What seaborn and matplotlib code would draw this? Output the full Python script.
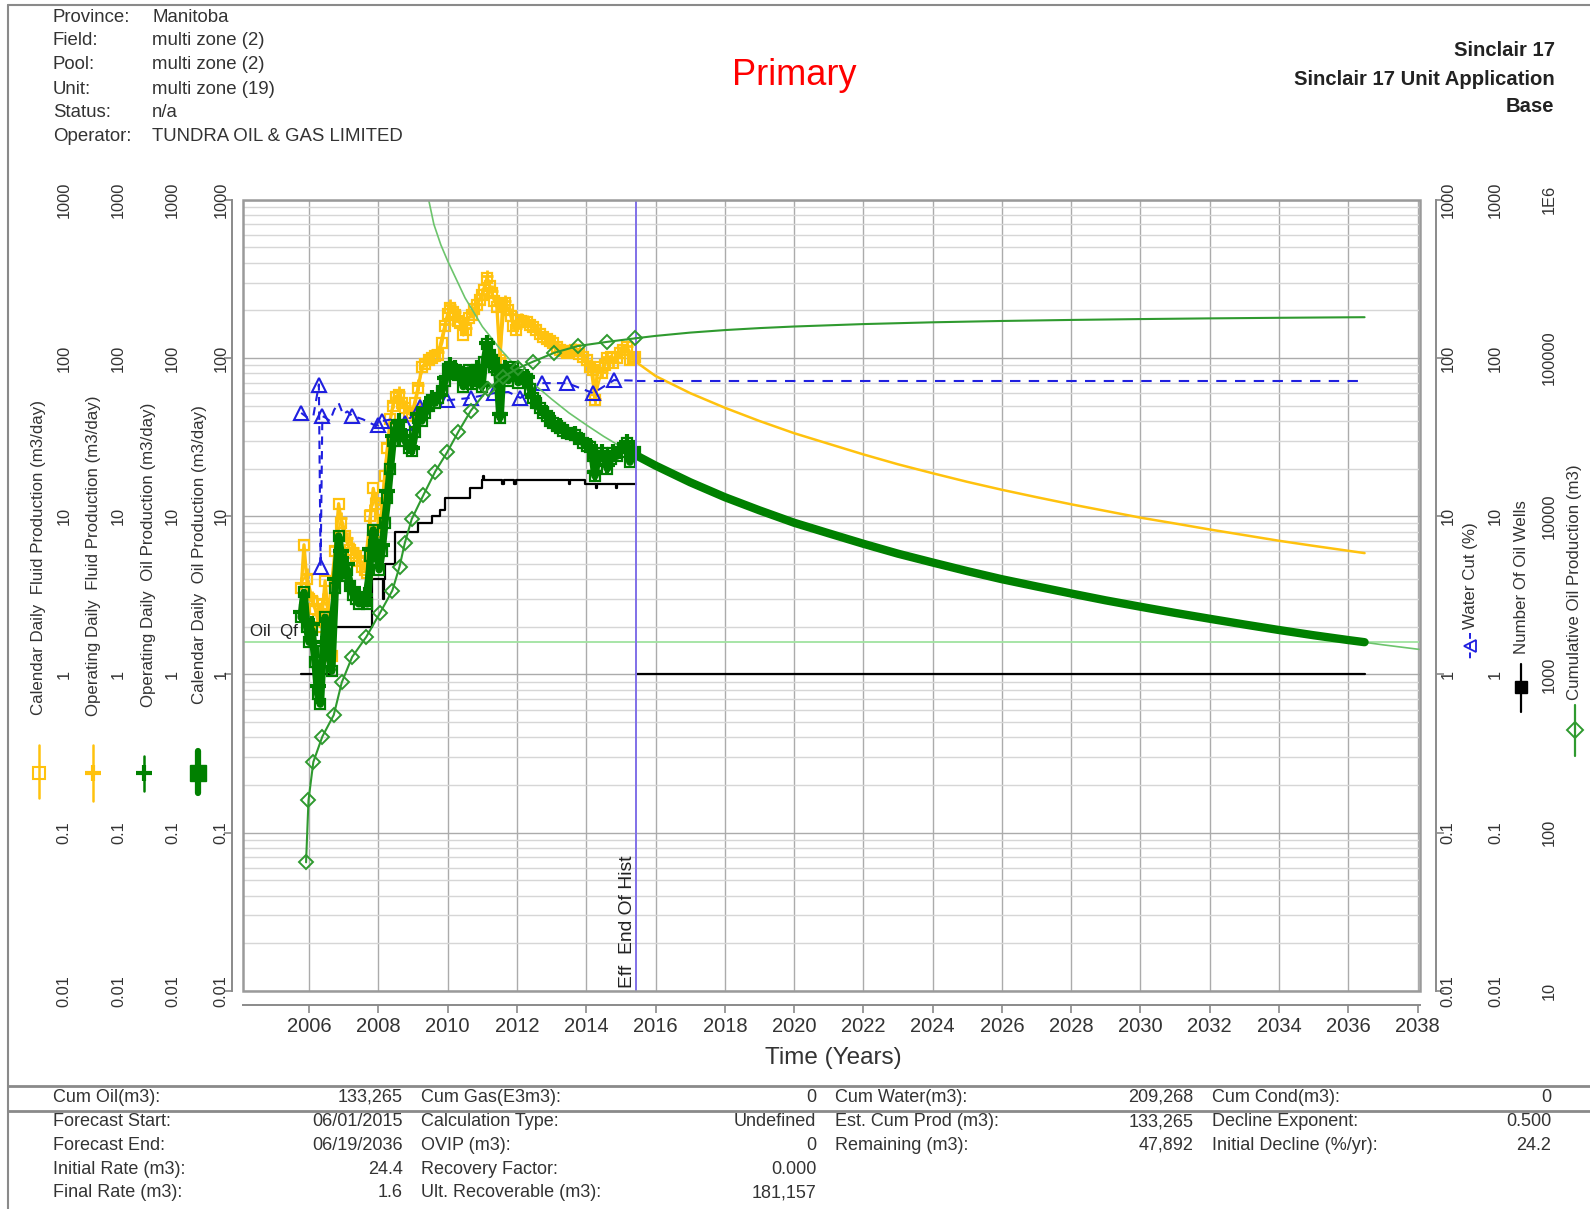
import matplotlib
matplotlib.use("Agg")
import matplotlib.pyplot as plt
import matplotlib.transforms as mtransforms
from matplotlib import font_manager as fm
from matplotlib.lines import Line2D
from matplotlib.patches import Rectangle
from matplotlib.ticker import FixedLocator, NullFormatter, NullLocator
import numpy as np
import seaborn as sns

# ---------------------------------------------------------------- data
hdr_labels = ["Province:", "Field:", "Pool:", "Unit:", "Status:", "Operator:"]
hdr_values = ["Manitoba", "multi zone (2)", "multi zone (2)", "multi zone (19)",
              "n/a", "TUNDRA OIL & GAS LIMITED"]
title_text = "Primary"
right_header = ["Sinclair 17", "Sinclair 17 Unit Application", "Base"]

# monthly history (calendar rates, m3/day)
hist_years = [2005.77, 2005.85, 2005.93,
              2006.00, 2006.08, 2006.17, 2006.25, 2006.32, 2006.40, 2006.46, 2006.55, 2006.65, 2006.75, 2006.85, 2006.93,
              2007.02, 2007.10, 2007.18, 2007.27, 2007.35, 2007.43, 2007.52, 2007.60, 2007.68, 2007.77, 2007.85, 2007.93,
              2008.02, 2008.10, 2008.18, 2008.26, 2008.34, 2008.42, 2008.50, 2008.60, 2008.68, 2008.77, 2008.88, 2008.96,
              2009.06, 2009.15, 2009.25, 2009.35, 2009.45, 2009.54, 2009.63, 2009.72, 2009.83, 2009.92,
              2010.00, 2010.07, 2010.15, 2010.21, 2010.30, 2010.36, 2010.45, 2010.52, 2010.60, 2010.69, 2010.77, 2010.84, 2010.92, 2010.98,
              2011.06, 2011.14, 2011.21, 2011.27, 2011.35, 2011.42, 2011.51, 2011.58, 2011.65, 2011.75, 2011.82, 2011.89, 2011.97,
              2012.04, 2012.12, 2012.20, 2012.28, 2012.38, 2012.47, 2012.56, 2012.66, 2012.76, 2012.86, 2012.96,
              2013.05, 2013.15, 2013.24, 2013.34, 2013.44, 2013.55, 2013.67, 2013.79, 2013.91,
              2014.01, 2014.11, 2014.18, 2014.25, 2014.33, 2014.44, 2014.53, 2014.61, 2014.70, 2014.78, 2014.88, 2014.97,
              2015.07, 2015.17, 2015.26, 2015.34, 2015.42]
cal_oil = [2.3, 3.3, 2.0,
           1.6, 1.9, 1.2, 0.75, 0.65, 1.4, 2.3, 1.5, 1.05, 3.5, 7.5, 5.5,
           4.2, 4.6, 3.6, 3.2, 3.0, 2.8, 3.1, 2.9, 2.8, 5.6, 8.2, 6.5,
           4.6, 6.0, 9.0, 13, 20, 30, 36, 38, 32, 30, 27, 26,
           34, 42, 40, 45, 50, 54, 52, 56, 62, 72,
           85, 88, 80, 84, 78, 80, 66, 75, 84, 69, 78, 84, 72, 66,
           95, 122, 105, 97, 88, 84, 42, 80, 84, 72, 80, 88, 78,
           70, 74, 76, 74, 64, 56, 52, 48, 45, 43, 40,
           38.6, 37, 36, 34.5, 33.6, 33, 32.8, 31, 29.2,
           28, 27.2, 24, 18, 24, 25, 23, 20, 23, 25, 24, 25.6,
           27, 29, 22, 25, 25.6]
cal_fluid = [3.5, 6.6, 4.0,
             3.0, 2.9, 2.6, 2.2, 2.0, 2.8, 3.9, 2.4, 1.3, 6.0, 12, 9.1,
             7.5, 6.8, 6.1, 5.9, 5.6, 5.2, 4.8, 4.6, 4.4, 10, 15, 12,
             8, 11, 18, 27, 41, 50, 57, 58, 52, 48, 45, 43,
             52, 65, 88, 92, 97, 100, 103, 105, 125, 160,
             190, 207, 195, 187, 172, 166, 140, 150, 180, 187, 205, 215, 234, 250,
             270, 320, 285, 258, 230, 210, 97, 215, 222, 202, 185, 160, 150,
             175, 172, 170, 168, 162, 158, 150, 142, 136, 131, 128,
             125, 118, 112, 110, 107, 110, 112, 106, 102,
             97, 88, 84, 54, 88, 80, 90, 100, 102, 93, 100, 107,
             112, 118, 97, 100, 102]

# operating-day rates (m3/day)
op_years = [2005.77, 2005.93, 2006.08, 2006.25, 2006.40, 2006.55, 2006.75, 2006.93, 2007.10, 2007.27,
            2007.43, 2007.60, 2007.77, 2007.93, 2008.10, 2008.26, 2008.42, 2008.60, 2008.77, 2008.96,
            2009.15, 2009.35, 2009.54, 2009.72, 2009.92, 2010.07, 2010.21, 2010.36, 2010.52, 2010.69,
            2010.84, 2010.98, 2011.14, 2011.27, 2011.42, 2011.51, 2011.65, 2011.82, 2011.97, 2012.12,
            2012.28, 2012.47, 2012.66, 2012.86, 2013.05, 2013.24, 2013.44, 2013.67, 2013.91, 2014.11,
            2014.25, 2014.44, 2014.61, 2014.78, 2014.97, 2015.17, 2015.34]
op_oil = [2.5, 2.2, 2.1, 0.85, 1.6, 1.7, 4.0, 6.0, 5.0, 3.5,
          3.1, 3.2, 6.2, 7.0, 6.6, 14.5, 32, 40, 32, 27,
          44, 47, 56, 58, 75, 90, 86, 82, 77, 71,
          86, 68, 125, 99, 86, 44, 86, 82, 80, 76,
          76, 57, 49, 44, 39, 37, 34, 33, 30, 28,
          19, 25.5, 21, 25.5, 26, 29.5, 25.5]
op_fluid = [3.8, 4.3, 3.1, 2.4, 3.0, 2.6, 6.5, 9.8, 7.3, 6.3,
            5.5, 4.9, 11, 13, 12, 29, 53, 61, 50, 45,
            68, 96, 104, 109, 165, 215, 195, 172, 155, 195,
            220, 255, 330, 265, 215, 100, 228, 190, 155, 176,
            172, 160, 145, 133, 127, 114, 109, 114, 104, 90,
            55, 82, 102, 95, 109, 120, 102]

# water cut history (%)
wc_years = [2005.77, 2005.95, 2006.12, 2006.28, 2006.33, 2006.38, 2006.47, 2006.60, 2006.72, 2006.85,
            2006.98, 2007.10, 2007.23, 2007.55, 2007.85, 2007.99, 2008.10, 2008.40, 2008.78, 2009.19,
            2009.60, 2009.97, 2010.66, 2011.34, 2011.75, 2012.10, 2012.72, 2013.45, 2014.20, 2014.80, 2015.42]
wc_pct = [45, 42, 43, 68, 4.8, 43, 42, 40, 47, 52,
          44, 46, 43.3, 41, 38, 37.5, 40, 41, 38.7, 49,
          52, 54, 56, 60, 61, 56, 69.4, 69.4, 60, 72.5, 72]
wc_marked = [0, 3, 4, 5, 12, 15, 16, 18, 19, 21, 22, 23, 25, 26, 27, 28, 29]

# producing oil wells
wells_years = [2005.77, 2006.60, 2007.81, 2008.13, 2008.17, 2008.19, 2008.48, 2009.15, 2009.54, 2009.78,
               2009.92, 2010.65, 2010.98, 2011.02, 2011.06, 2011.58, 2011.62, 2011.92, 2011.96, 2013.49,
               2013.53, 2013.96, 2014.28, 2014.32, 2014.86, 2014.90, 2015.45]
wells_count = [1, 2, 4, 3, 4, 5, 8, 9, 10, 11,
               13, 15, 17, 18, 17, 16, 17, 16, 17, 16,
               17, 16, 15, 16, 15, 16, 16]
fc_wells_years = [2015.45, 2036.47]
fc_wells_count = [1, 1]

# cumulative oil (m3)
cum_years = [2005.91, 2005.98, 2006.12, 2006.38, 2006.71, 2006.94, 2007.24, 2007.65, 2008.05, 2008.40,
             2008.61, 2008.76, 2008.96, 2009.30, 2009.64, 2009.98, 2010.31, 2010.67, 2011.17, 2011.60,
             2012.02, 2012.47, 2013.08, 2013.75, 2014.60, 2015.42]
cum_oil = [65, 160, 280, 405, 555, 890, 1290, 1730, 2460, 3390,
           4810, 6760, 9590, 13650, 19180, 25300, 34300, 46600, 63800, 76000,
           86000, 95000, 108000, 119000, 126500, 133265]

# forecast
fc_years = [2015.42, 2016, 2017, 2018, 2019, 2020, 2021, 2022, 2023, 2024, 2025, 2026,
            2027, 2028, 2029, 2030, 2031, 2032, 2033, 2034, 2035, 2036, 2036.47]
fc_oil = [24.4, 20.9, 16.4, 13.2, 10.9, 9.1, 7.8, 6.7, 5.8, 5.1, 4.5, 4.0,
          3.6, 3.25, 2.94, 2.68, 2.45, 2.25, 2.07, 1.91, 1.77, 1.65, 1.6]
fc_fluid = [95, 77, 60, 48.5, 40, 33.5, 28.7, 24.6, 21.3, 18.7, 16.5, 14.7,
            13.2, 11.9, 10.8, 9.8, 9.0, 8.25, 7.6, 7.0, 6.5, 6.05, 5.85]
fc_wc_years = [2015.42, 2036.47]
fc_wc_pct = [72, 72]
fc_cum_years = [2015.42, 2016, 2017, 2018, 2019, 2020, 2022, 2024, 2026, 2028, 2030, 2032, 2034, 2036, 2036.47]
fc_cum_oil = [133265, 138000, 144800, 150200, 154600, 158200, 163900, 168200, 171500, 174100,
              176300, 178100, 179600, 180900, 181157]

# fitted decline curve over the whole span
dc_years = [2009.45, 2009.6, 2009.8, 2010.0, 2010.5, 2011.0, 2011.5, 2012.0, 2012.5, 2013.0, 2013.5,
            2014.0, 2014.5, 2015.0, 2015.42, 2016, 2017, 2018, 2019, 2020, 2022, 2024, 2026,
            2028, 2030, 2032, 2034, 2036, 2037, 2038.06]
dc_rate = [1000, 700, 520, 410, 240, 158, 115, 87, 68, 55, 45,
           37.8, 32, 27.5, 24.4, 20.9, 16.4, 13.2, 10.9, 9.1, 6.7, 5.1, 4.0,
           3.25, 2.68, 2.25, 1.91, 1.65, 1.54, 1.44]

qf_rate = 1.6
end_of_hist = 2015.45

x_ticks = list(range(2006, 2039, 2))
rate_ticks = [0.01, 0.1, 1, 10, 100, 1000]
rate_tick_labels = ["0.01", "0.1", "1", "10", "100", "1000"]
cum_ticks = [10, 100, 1000, 10000, 100000, 1000000]
cum_tick_labels = ["10", "100", "1000", "10000", "100000", "1E6"]

left_axis_titles = ["Calendar Daily  Fluid Production (m3/day)",
                    "Operating Daily  Fluid Production (m3/day)",
                    "Operating Daily  Oil Production (m3/day)",
                    "Calendar Daily  Oil Production (m3/day)"]
right_axis_titles = ["Water Cut (%)", "Number Of Oil Wells", "Cumulative Oil Production (m3)"]

table_rows = [
    [("Cum Oil(m3):", "133,265"), ("Cum Gas(E3m3):", "0"), ("Cum Water(m3):", "209,268"), ("Cum Cond(m3):", "0")],
    [("Forecast Start:", "06/01/2015"), ("Calculation Type:", "Undefined"), ("Est. Cum Prod (m3):", "133,265"),
     ("Decline Exponent:", "0.500")],
    [("Forecast End:", "06/19/2036"), ("OVIP (m3):", "0"), ("Remaining (m3):", "47,892"),
     ("Initial Decline (%/yr):", "24.2")],
    [("Initial Rate (m3):", "24.4"), ("Recovery Factor:", "0.000")],
    [("Final Rate (m3):", "1.6"), ("Ult. Recoverable (m3):", "181,157")],
]

# ---------------------------------------------------------------- style
sns.set_style("white")
plt.rcParams["font.family"] = ["Liberation Sans", "DejaVu Sans"]
try:
    fm.findfont(fm.FontProperties(family="Liberation Sans Narrow"), fallback_to_default=False)
    NARROW = ["Liberation Sans Narrow", "Liberation Sans", "DejaVu Sans"]
    NS = 1.0
except ValueError:
    NARROW = ["Liberation Sans", "DejaVu Sans"]
    NS = 0.84

GOLD = "#FFC20E"
DKGREEN = "#008000"
CUMGREEN = "#2F9A2F"
THIN = "#6CC46C"
QF = "#A0E3A0"
BLUE = "#1F1FE0"
EOH = "#8070E8"
GRID_MAJ = "#ABABAB"
GRID_MIN = "#D6D6D6"
FRAME = "#8A8A8A"
TXT = "#333333"

W, H = 1568.0, 1192.0


def fx(x):
    return x / W


def fy(y):
    return 1.0 - y / H


def line(axis, xs, ys, **kw):
    sns.lineplot(x=np.asarray(xs, float), y=np.asarray(ys, float), ax=axis,
                 estimator=None, sort=False, **kw)


fig = plt.figure(figsize=(15.9, 12.09), dpi=100)
ax = fig.add_axes([fx(240), fy(977), fx(1400) - fx(240), fy(197) - fy(977)])
ax.set_yscale("log")
ax2 = ax.twinx()
ax2.set_yscale("log")

# ---------------------------------------------------------------- series
line(ax, wells_years, wells_count, color="black", lw=1.6, drawstyle="steps-post", zorder=3)
line(ax, fc_wells_years, fc_wells_count, color="black", lw=1.6, zorder=3)

line(ax, op_years, op_fluid, color=GOLD, lw=1.6, marker="+", markersize=9,
     markeredgewidth=2, markeredgecolor=GOLD, zorder=4)
line(ax, hist_years, cal_fluid, color=GOLD, lw=2.4, marker="s", markersize=7,
     markerfacecolor="none", markeredgecolor=GOLD, markeredgewidth=1.6, zorder=4)
line(ax, fc_years, fc_fluid, color=GOLD, lw=1.8, zorder=4)

line(ax, wc_years, wc_pct, color=BLUE, lw=1.5, linestyle=(0, (4, 3)), marker="^", markersize=10,
     markerfacecolor="none", markeredgecolor=BLUE, markeredgewidth=1.5, markevery=wc_marked, zorder=5)
line(ax, fc_wc_years, fc_wc_pct, color=BLUE, lw=1.5, linestyle=(0, (5, 4)), zorder=5)

line(ax, dc_years, dc_rate, color=THIN, lw=1.2, zorder=5.5)

line(ax, op_years, op_oil, color=DKGREEN, lw=2.5, marker="+", markersize=11,
     markeredgewidth=3, markeredgecolor=DKGREEN, zorder=6)
line(ax, hist_years, cal_oil, color=DKGREEN, lw=5.5, marker="s", markersize=7,
     markerfacecolor="none", markeredgecolor=DKGREEN, markeredgewidth=1.6, zorder=6)
line(ax, fc_years, fc_oil, color=DKGREEN, lw=6, zorder=6)

ax.axhline(qf_rate, color=QF, lw=1.3, zorder=2)
ax.axvline(end_of_hist, color=EOH, lw=1.4, zorder=8)

line(ax2, cum_years, cum_oil, color=CUMGREEN, lw=1.5, marker="D", markersize=7,
     markerfacecolor="none", markeredgecolor=CUMGREEN, markeredgewidth=1.4, zorder=5)
line(ax2, fc_cum_years, fc_cum_oil, color=CUMGREEN, lw=1.5, zorder=5)

ax.text(2004.3, qf_rate * 1.04, "Oil  Qf", fontsize=14.5 * NS, family=NARROW, color="#222222",
        ha="left", va="bottom", zorder=9)
ax.text(end_of_hist - 0.25, 0.0105, "Eff  End Of Hist", rotation=90, fontsize=16.5 * NS,
        family=NARROW, color="#222222", ha="center", va="bottom", zorder=9)

# ---------------------------------------------------------------- axes
ax.set_xlim(2004.1, 2038.06)
ax.set_ylim(0.01, 1000)
ax2.set_ylim(10, 1e6)
ax.set_xlabel("")
ax.set_ylabel("")
ax2.set_ylabel("")

ax.xaxis.set_major_locator(FixedLocator(x_ticks))
ax.set_xticklabels([str(t) for t in x_ticks])
ax.yaxis.set_major_locator(FixedLocator(rate_ticks))
ax.yaxis.set_minor_locator(FixedLocator([m * 10.0 ** e for e in range(-2, 3) for m in range(2, 10)]))
ax.yaxis.set_major_formatter(NullFormatter())
ax.yaxis.set_minor_formatter(NullFormatter())
ax.grid(True, which="major", axis="y", color=GRID_MAJ, lw=1.0)
ax.grid(True, which="minor", axis="y", color=GRID_MIN, lw=1.0)
ax.grid(True, which="major", axis="x", color=GRID_MAJ, lw=1.0)

ax.spines["top"].set_visible(False)
ax.spines["bottom"].set_position(("outward", 10))
ax.spines["left"].set_position(("outward", 8))
ax.spines["right"].set_position(("outward", 12))
for s in ("bottom", "left", "right"):
    ax.spines[s].set_color(FRAME)
    ax.spines[s].set_linewidth(1.4)
ax.tick_params(axis="y", which="major", left=True, right=True, length=6, width=1.2,
               color=FRAME, labelleft=False, labelright=False)
ax.tick_params(axis="y", which="minor", left=False, right=False, length=0)
ax.tick_params(axis="x", which="major", bottom=True, length=6, width=1.2, color=FRAME, pad=2.5,
               labelsize=14.5, labelcolor=TXT)

for s in ax2.spines.values():
    s.set_visible(False)
ax2.yaxis.set_major_locator(FixedLocator(cum_ticks))
ax2.yaxis.set_minor_locator(NullLocator())
ax2.tick_params(axis="y", which="both", right=False, labelright=False, left=False, labelleft=False)

ax.add_patch(Rectangle((0, 0), 1, 1, transform=ax.transAxes, fill=False, edgecolor="#9A9A9A",
                       lw=1.8, zorder=10, clip_on=False))

# tick label columns
trL = mtransforms.blended_transform_factory(fig.transFigure, ax.transData)
trC = mtransforms.blended_transform_factory(fig.transFigure, ax2.transData)
for xc in (63, 117, 170, 218, 1428, 1475):
    for v, s in zip(rate_ticks, rate_tick_labels):
        ax.text(fx(xc), v, s, transform=trL, rotation=90, ha="center", va="center",
                fontsize=14 * NS, family=NARROW, color=TXT, clip_on=False)
for v, s in zip(cum_ticks, cum_tick_labels):
    ax2.text(fx(1528), v, s, transform=trC, rotation=90, ha="center", va="center",
             fontsize=14 * NS, family=NARROW, color=TXT, clip_on=False)

# axis titles with their legend keys
left_pos = [(38, 705), (92, 706), (146, 697), (197, 694)]
for (xc, yb), t in zip(left_pos, left_axis_titles):
    fig.text(fx(xc), fy(yb), t, rotation=90, ha="center", va="bottom",
             fontsize=14.5 * NS, family=NARROW, color=TXT)
right_pos = [(1450, 620), (1500, 645), (1553, 690)]
for (xc, yb), t in zip(right_pos, right_axis_titles):
    fig.text(fx(xc), fy(yb), t, rotation=90, ha="center", va="bottom",
             fontsize=14.5 * NS, family=NARROW, color=TXT)


def legend_key(xc, y0, y1, ym, color, lw, ls="-", **mk):
    fig.add_artist(Line2D([fx(xc), fx(xc)], [fy(y0), fy(y1)], color=color, lw=lw, linestyle=ls))
    fig.add_artist(Line2D([fx(xc)], [fy(ym)], color=color, linestyle="none", **mk))


legend_key(38, 735, 787, 762, GOLD, 1.8, marker="s", markersize=8, markerfacecolor="none",
           markeredgecolor=GOLD, markeredgewidth=1.5)
legend_key(92, 735, 790, 762, GOLD, 1.8, marker="+", markersize=12, markeredgewidth=3,
           markeredgecolor=GOLD)
legend_key(142, 745, 780, 762, DKGREEN, 1.8, marker="+", markersize=12, markeredgewidth=3,
           markeredgecolor=DKGREEN)
legend_key(195, 740, 782, 762, DKGREEN, 4.5, marker="s", markersize=11, markerfacecolor=DKGREEN,
           markeredgecolor=DKGREEN)
legend_key(1450, 624, 652, 637, BLUE, 1.4, ls=(0, (3, 2)), marker="<", markersize=8,
           markerfacecolor="none", markeredgecolor=BLUE, markeredgewidth=1.3)
legend_key(1500, 655, 702, 677, "black", 1.6, marker="s", markersize=8, markerfacecolor="black",
           markeredgecolor="black")
legend_key(1553, 695, 745, 720, CUMGREEN, 1.6, marker="D", markersize=8, markerfacecolor="none",
           markeredgecolor=CUMGREEN, markeredgewidth=1.4)

fig.text(fx(822), fy(1043), "Time (Years)", ha="center", va="center", fontsize=17.5, color=TXT)

# ---------------------------------------------------------------- header
hdr_rows_y = [17, 40, 64, 88, 111, 135]
for yy, lab, val in zip(hdr_rows_y, hdr_labels, hdr_values):
    fig.text(fx(52), fy(yy), lab, ha="left", va="center", fontsize=13.4, color=TXT)
    fig.text(fx(150), fy(yy), val, ha="left", va="center", fontsize=13.4, color=TXT)
fig.text(fx(783), fy(74), title_text, ha="center", va="center", fontsize=26, color="#FF0000")
for yy, t in zip([50, 78, 105], right_header):
    fig.text(fx(1533), fy(yy), t, ha="right", va="center", fontsize=14.6, fontweight="bold", color="#222222")

# ---------------------------------------------------------------- summary table
col_label_x = [52, 415, 823, 1195]
col_value_x = [397, 805, 1177, 1530]
row_y = [1082, 1106, 1129, 1153, 1176]
for yy, row in zip(row_y, table_rows):
    for (lab, val), lx, vx in zip(row, col_label_x, col_value_x):
        fig.text(fx(lx), fy(yy), lab, ha="left", va="center", fontsize=13, color=TXT)
        fig.text(fx(vx), fy(yy), val, ha="right", va="center", fontsize=13, color=TXT)

# frame and separators
fig.add_artist(Line2D([fx(8), fx(8)], [fy(5), 0.0], color=FRAME, lw=1.5))
fig.add_artist(Line2D([fx(8), 1.0], [fy(5), fy(5)], color=FRAME, lw=1.5))
for yy in (1071, 1095):
    fig.add_artist(Line2D([fx(8), 1.0], [fy(yy), fy(yy)], color=FRAME, lw=2))

fig.savefig("out.png", dpi=100)
